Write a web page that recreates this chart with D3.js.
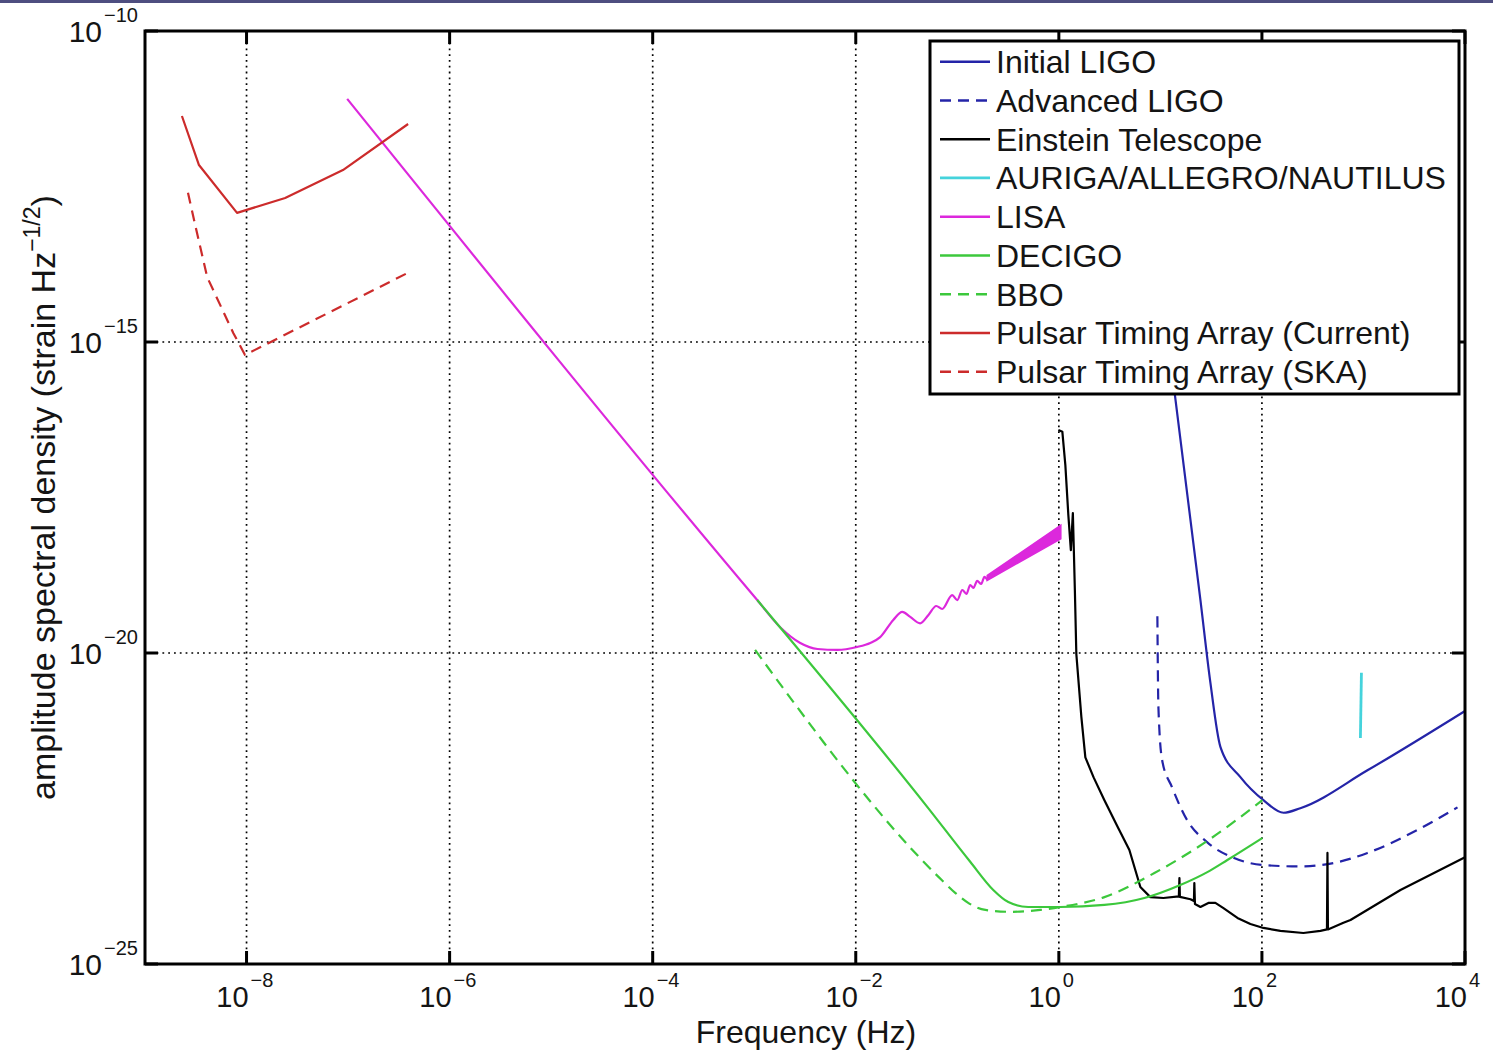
<!DOCTYPE html>
<html>
<head>
<meta charset="utf-8">
<script src="https://cdn.jsdelivr.net/npm/d3@7"></script>
<style>
  body { margin: 0; background: #fff; }
  text { font-family: "Liberation Sans", Arial, Helvetica, sans-serif; fill: #141414; }
</style>
</head>
<body>
<div id="chart"></div>
<script>
// [frequency (Hz), amplitude spectral density (strain Hz^-1/2)]
const initialLigo = [[13.7,1.7e-16],[24.8,7.1e-20],[31.1,3.3e-21],[39.0,3.1e-22],[61.4,1.01e-22],[103.5,4.3e-23],[163,2.7e-23],[239,3.2e-23],[1095,1.3e-22],[1e4,1.17e-21]];
const advancedLigo = [[9.34,3.9e-20],[9.56,1.36e-21],[10.4,1.9e-22],[13.0,7.0e-23],[18.3,2.07e-23],[28.8,9.1e-24],[52.4,5.1e-24],[103.5,3.9e-24],[239,3.7e-24],[506,4.2e-24],[1095,6.1e-24],[3404,1.43e-23],[8436,3.3e-23]];
const einsteinTelescope = [[0.989,3.85e-17],[1.083,3.6e-17],[1.159,1.05e-17],[1.24,1.66e-18],[1.313,4.5e-19],[1.374,1.78e-18],[1.405,4.5e-19],[1.438,1.03e-19],[1.487,9.6e-21],[1.666,9.4e-22],[1.824,2.1e-22],[2.2,1.0e-22],[2.81,4.3e-23],[3.8,1.6e-23],[4.95,6.8e-24],[6.35,1.73e-24],[7.97,1.19e-24],[10.7,1.15e-24],[15.2,1.22e-24],[15.4,2.4e-24],[15.56,1.2e-24],[19.8,1.1e-24],[21.4,1.03e-24],[21.6,2.0e-24],[21.9,9.2e-25],[24.8,8.25e-25],[29.7,9.6e-25],[34.8,9.6e-25],[41.8,7.9e-25],[57.4,5.5e-25],[77.0,4.4e-25],[103.5,3.8e-25],[152,3.4e-25],[256,3.15e-25],[377,3.4e-25],[437,3.6e-25],[442,6.1e-24],[447,3.6e-25],[635,4.6e-25],[745,5.1e-25],[2314,1.55e-24],[1e4,5.2e-24]];
const auriga = [[955,4.8e-21],[933,4.3e-22]];
const lisa = [[9.8e-8,8.1e-12],[1.07e-3,7.1e-20],[1.8e-3,2.6e-20],[2.84e-3,1.45e-20],[4.2e-3,1.16e-20],[6.6e-3,1.12e-20],[1.03e-2,1.25e-20],[1.39e-2,1.45e-20],[1.74e-2,1.8e-20],[2.34e-2,3.4e-20],[2.87e-2,4.6e-20],[3.44e-2,3.8e-20],[4.3e-2,3.0e-20],[5.2e-2,4.1e-20],[6.2e-2,5.7e-20],[7.1e-2,5.1e-20],[8.9e-2,8.5e-20],[0.100,7.1e-20],[0.112,1.03e-19],[0.123,8.9e-20],[0.134,1.24e-19],[0.144,1.11e-19],[0.157,1.44e-19],[0.172,1.29e-19],[0.185,1.67e-19],[0.198,1.49e-19]];
// dense oscillation near 1 Hz shows as a solid band
const lisaBandFreq = [0.198, 1.04];
const lisaBandUpper = [1.75e-19, 1.12e-18];
const lisaBandLower = [1.49e-19, 6.9e-19];
const decigo = [[1.07e-3,7.1e-20],[5.1e-2,3.3e-23],[0.134,4.4e-24],[0.226,1.55e-24],[0.318,9.9e-25],[0.50,8.25e-25],[1.035,8.25e-25],[2.81,8.9e-25],[6.96,1.15e-24],[15.7,1.86e-24],[29.0,3.0e-24],[45.7,4.7e-24],[101,1.06e-23]];
const bbo = [[1.02e-3,1.12e-20],[7.1e-2,2.2e-24],[9.6e-2,1.38e-24],[0.128,9.6e-25],[0.189,7.4e-25],[0.333,6.9e-25],[0.657,7.4e-25],[1.035,8.25e-25],[2.81,1.19e-24],[8.73,2.9e-24],[27.8,9.1e-24],[101,4.3e-23]];
const ptaCurrent = [[2.31e-9,4.3e-12],[3.4e-9,7.0e-13],[8.06e-9,1.19e-13],[2.4e-8,2.07e-13],[8.9e-8,5.8e-13],[3.9e-7,3.2e-12]];
const ptaSka = [[2.65e-9,2.5e-13],[3.25e-9,5.7e-14],[4.1e-9,1.1e-14],[7.4e-9,1.4e-15],[9.66e-9,6.2e-16],[3.9e-7,1.3e-14]];

const seriesNames = ['Initial LIGO','Advanced LIGO','Einstein Telescope','AURIGA/ALLEGRO/NAUTILUS','LISA','DECIGO','BBO','Pulsar Timing Array (Current)','Pulsar Timing Array (SKA)'];
const seriesData = [initialLigo, advancedLigo, einsteinTelescope, auriga, lisa, decigo, bbo, ptaCurrent, ptaSka];
const seriesColors = ['#2424a8','#2424a8','#000000','#45d3dc','#dc28dc','#3cc83c','#3cc83c','#cc2b2b','#cc2b2b'];
const seriesDashed = [false, true, false, false, false, false, true, false, true];
const seriesSmooth = [true, true, false, false, true, true, true, false, false];

const xTickExp = [-8, -6, -4, -2, 0, 2, 4];
const yTickExp = [-25, -20, -15, -10];

// layout
const W = 1493, H = 1050;
const margin = {top: 31, right: 28, bottom: 86, left: 145};
const width = W - margin.left - margin.right,
      height = H - margin.top - margin.bottom;

const svg = d3.select('#chart').append('svg')
    .attr('width', W)
    .attr('height', H);

svg.append('rect').attr('width', W).attr('height', H).attr('fill', '#fff');
svg.append('rect').attr('width', W).attr('height', 3).attr('fill', '#4e4e80');

const g = svg.append('g')
    .attr('transform', 'translate(' + margin.left + ',' + margin.top + ')');

const x = d3.scaleLog().domain([1e-9, 1e4]).range([0, width]);
const y = d3.scaleLog().domain([1e-25, 1e-10]).range([height, 0]);

// dotted grid
g.append('g').selectAll('line')
    .data(xTickExp.filter(e => e < 4))
    .enter().append('line')
        .attr('x1', d => x(Math.pow(10, d))).attr('x2', d => x(Math.pow(10, d)))
        .attr('y1', 0).attr('y2', height)
        .attr('stroke', '#000').attr('stroke-width', 1.7)
        .attr('stroke-dasharray', '1.8,4');
g.append('g').selectAll('line')
    .data(yTickExp.filter(e => e > -25 && e < -10))
    .enter().append('line')
        .attr('y1', d => y(Math.pow(10, d))).attr('y2', d => y(Math.pow(10, d)))
        .attr('x1', 0).attr('x2', width)
        .attr('stroke', '#000').attr('stroke-width', 1.7)
        .attr('stroke-dasharray', '1.8,4');

// curves
const lineSmooth = d3.line().x(d => x(d[0])).y(d => y(d[1])).curve(d3.curveMonotoneX);
const lineStraight = d3.line().x(d => x(d[0])).y(d => y(d[1]));

// LISA band first, then the lines
const band = lisaBandFreq.map((f, i) => ({f: f, lo: lisaBandLower[i], hi: lisaBandUpper[i]}));
g.append('path')
    .datum(band)
    .attr('d', d3.area().x(d => x(d.f)).y0(d => y(d.lo)).y1(d => y(d.hi)))
    .attr('fill', seriesColors[4])
    .attr('stroke', seriesColors[4])
    .attr('stroke-width', 2);

seriesData.forEach((data, i) => {
    g.append('path')
        .datum(data)
        .attr('d', seriesSmooth[i] ? lineSmooth : lineStraight)
        .attr('fill', 'none')
        .attr('stroke', seriesColors[i])
        .attr('stroke-width', i == 3 ? 2.8 : 2.2)
        .attr('stroke-linejoin', 'round')
        .attr('stroke-dasharray', seriesDashed[i] ? '11,7' : null);
});

// ticks on all four sides, pointing inward
const tickLen = 13;
xTickExp.forEach(e => {
    let px = x(Math.pow(10, e));
    g.append('line').attr('x1', px).attr('x2', px).attr('y1', height).attr('y2', height - tickLen)
        .attr('stroke', '#000').attr('stroke-width', 3);
    g.append('line').attr('x1', px).attr('x2', px).attr('y1', 0).attr('y2', tickLen)
        .attr('stroke', '#000').attr('stroke-width', 3);
});
yTickExp.forEach(e => {
    let py = y(Math.pow(10, e));
    g.append('line').attr('y1', py).attr('y2', py).attr('x1', 0).attr('x2', tickLen)
        .attr('stroke', '#000').attr('stroke-width', 3);
    g.append('line').attr('y1', py).attr('y2', py).attr('x1', width).attr('x2', width - tickLen)
        .attr('stroke', '#000').attr('stroke-width', 3);
});

// frame
g.append('rect')
    .attr('width', width).attr('height', height)
    .attr('fill', 'none').attr('stroke', '#000').attr('stroke-width', 3);

const supText = e => (e < 0 ? '\u2212' : '') + Math.abs(e);

// x tick labels: "10" ends at the tick, exponent follows
xTickExp.forEach(e => {
    let px = x(Math.pow(10, e));
    g.append('text')
        .attr('x', px + 2).attr('y', height + 43)
        .attr('text-anchor', 'end')
        .attr('font-size', 29)
        .text('10');
    g.append('text')
        .attr('x', px + 4).attr('y', height + 23)
        .attr('font-size', 20)
        .text(supText(e));
});

// y tick labels, right aligned
yTickExp.forEach(e => {
    let py = y(Math.pow(10, e));
    let sup = g.append('text')
        .attr('x', -7).attr('y', py - 9)
        .attr('text-anchor', 'end')
        .attr('font-size', 20)
        .text(supText(e));
    let w = sup.node().getComputedTextLength();
    g.append('text')
        .attr('x', -7 - w - 2).attr('y', py + 11)
        .attr('text-anchor', 'end')
        .attr('font-size', 30)
        .text('10');
});

// axis labels
svg.append('text')
    .attr('x', 806).attr('y', 1042.5)
    .attr('text-anchor', 'middle')
    .attr('font-size', 32)
    .text('Frequency (Hz)');

let yl = svg.append('text')
    .attr('transform', 'translate(55,' + (margin.top + height / 2) + ')rotate(-90)')
    .attr('text-anchor', 'middle')
    .attr('font-size', 34);
yl.append('tspan').text('amplitude spectral density (strain Hz');
yl.append('tspan').attr('font-size', 23).attr('dy', -15).text('\u22121/2');
yl.append('tspan').attr('dy', 15).text(')');

// legend
const legend = svg.append('g');
legend.append('rect')
    .attr('x', 930).attr('y', 41)
    .attr('width', 529).attr('height', 353)
    .attr('fill', '#fff').attr('stroke', '#000').attr('stroke-width', 3);

seriesNames.forEach((name, i) => {
    let cy = 61.7 + i * 38.75;
    legend.append('line')
        .attr('x1', 940).attr('x2', 990)
        .attr('y1', cy).attr('y2', cy)
        .attr('stroke', seriesColors[i])
        .attr('stroke-width', i == 3 ? 2.8 : 2.4)
        .attr('stroke-dasharray', seriesDashed[i] ? '11,7' : null);
    legend.append('text')
        .attr('x', 996).attr('y', cy + 11.5)
        .attr('font-size', 32)
        .text(name);
});
</script>
</body>
</html>
